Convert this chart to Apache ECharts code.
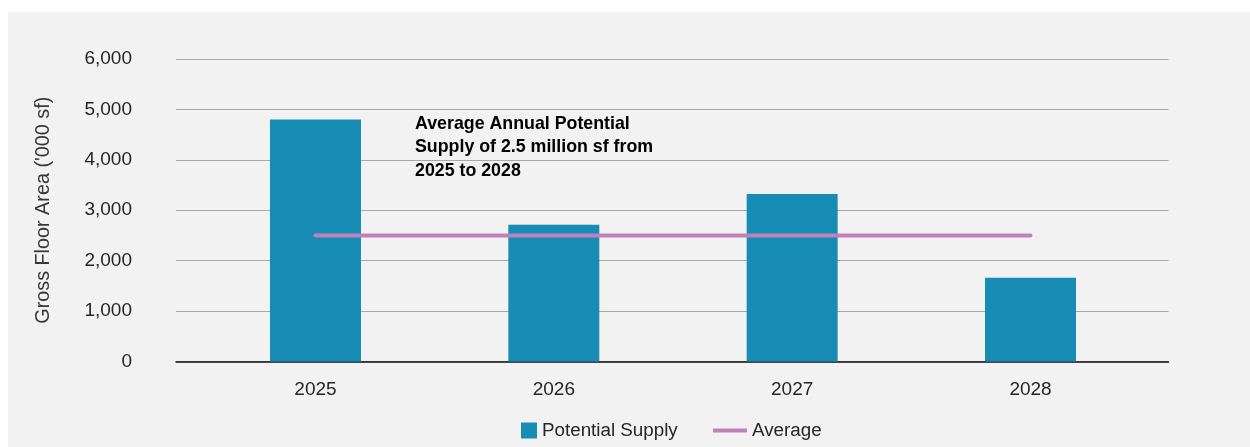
<!DOCTYPE html>
<html>
<head>
<meta charset="utf-8">
<script src="https://cdn.jsdelivr.net/npm/echarts@6/dist/echarts.min.js"></script>
<style>
  html, body { margin: 0; padding: 0; background: #ffffff; width: 1250px; height: 447px; overflow: hidden; }
  #chart { position: absolute; left: 8px; top: 12px; width: 1242px; height: 435px; background: #f2f2f2; }
</style>
</head>
<body>
<div id="chart"></div>
<script>
// Annual potential supply (gross floor area, '000 sf)
const years = ['2025', '2026', '2027', '2028'];
const potentialSupply = [4800, 2710, 3320, 1660];
// Average annual potential supply of 2.5 million sf
const averageSupply = [2500, 2500, 2500, 2500];
// Value axis range and step
const yMin = 0;
const yMax = 6000;
const yStep = 1000;

const FONT = "'Liberation Sans', Arial, Helvetica, sans-serif";
const BAR_COLOR = '#178db6';
const AVG_COLOR = '#c080ba';
const TEXT_COLOR = '#262626';

const chart = echarts.init(document.getElementById('chart'), null, { renderer: 'canvas' });

chart.setOption({
  backgroundColor: '#f2f2f2',
  animation: false,
  textStyle: { fontFamily: FONT },
  grid: [
    // frame for the value axis, gridlines and baseline
    { left: 168, right: 81.5, top: 47, bottom: 85.5 },
    // narrower band holding the year categories
    { left: 188.3, right: 100.3, top: 47, bottom: 85.5 }
  ],
  xAxis: [
    {
      gridIndex: 0, type: 'category', data: years,
      axisLine: { show: true, lineStyle: { color: '#111111', width: 1.5 } },
      axisTick: { show: false }, axisLabel: { show: false }, splitLine: { show: false }
    },
    {
      gridIndex: 1, type: 'category', data: years,
      axisLine: { show: false }, axisTick: { show: false },
      axisLabel: { color: TEXT_COLOR, fontSize: 19, margin: 19, fontFamily: FONT }
    }
  ],
  yAxis: [
    {
      gridIndex: 0, type: 'value', min: yMin, max: yMax, interval: yStep,
      name: "Gross Floor Area ('000 sf)",
      nameLocation: 'middle', nameGap: 122,
      nameTextStyle: { color: '#383838', fontSize: 19.8, fontFamily: FONT },
      axisLine: { show: false }, axisTick: { show: false },
      axisLabel: {
        color: TEXT_COLOR, fontSize: 19, margin: 44, fontFamily: FONT,
        padding: [7, 0, 0, 0],
        formatter: v => v.toLocaleString('en-US')
      },
      splitLine: { show: true, lineStyle: { color: '#a8a8a8', width: 1.2 } }
    },
    {
      gridIndex: 1, type: 'value', min: yMin, max: yMax, interval: yStep, show: false
    }
  ],
  legend: [
    {
      data: [{ name: 'Potential Supply', icon: 'rect' }],
      left: 513, top: 409, padding: 0,
      itemWidth: 16, itemHeight: 16, itemGap: 20,
      textStyle: { color: TEXT_COLOR, fontSize: 18.8, fontFamily: FONT }
    },
    {
      data: [{ name: 'Average', icon: 'rect' }],
      left: 705, top: 409, padding: 0,
      itemWidth: 34, itemHeight: 4,
      textStyle: { color: TEXT_COLOR, fontSize: 18.8, fontFamily: FONT }
    }
  ],
  graphic: [
    {
      type: 'text', left: 407, top: 100, z: 10,
      style: {
        text: 'Average Annual Potential\nSupply of 2.5 million sf from\n2025 to 2028',
        fill: '#000000',
        font: "bold 17.8px " + FONT,
        lineHeight: 23.5
      }
    }
  ],
  series: [
    {
      name: 'Potential Supply', type: 'bar',
      xAxisIndex: 1, yAxisIndex: 1,
      data: potentialSupply, barWidth: 91,
      itemStyle: { color: BAR_COLOR }
    },
    {
      name: 'Average', type: 'line',
      xAxisIndex: 1, yAxisIndex: 1,
      data: averageSupply, symbol: 'none', showSymbol: false,
      itemStyle: { color: AVG_COLOR },
      lineStyle: { color: AVG_COLOR, width: 4, cap: 'round' },
      z: 5
    }
  ]
});
</script>
</body>
</html>
